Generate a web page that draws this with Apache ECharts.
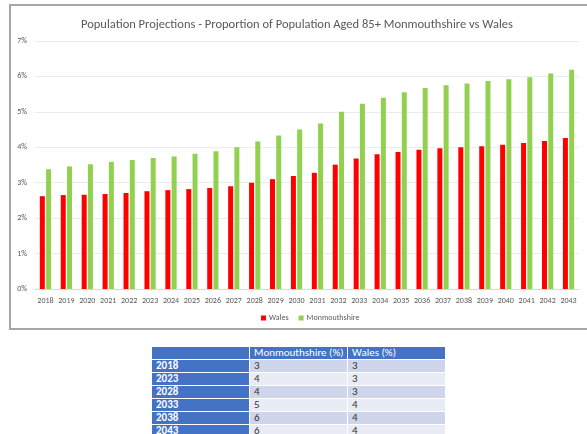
<!DOCTYPE html>
<html lang="en">
<head>
	<meta charset="UTF-8">
	<title>Population Projections - Aged 85+</title>
	<style type="text/css">
		body{
			margin: 0;
			width: 587px;
			height: 434px;
			overflow: hidden;
			background: #fff;
			position: relative;
		}
		#a{
			position: absolute;
			left: 9px;
			top: 4px;
			width: 585px;
			height: 322px;
			border: 2px solid #a6a6a6;
		}
		#t{
			position: absolute;
			left: 151px;
			top: 346px;
			border-collapse: separate;
			border-spacing: 1px;
			font-family: Carlito, "Liberation Sans", sans-serif;
			font-size: 11px;
			line-height: 12px;
		}
		#t td{
			padding: 0 0 0 4px;
			height: 12px;
			color: #333;
		}
		#t tr.h td{ background: #4472c4; color: #fff; }
		#t td.y{ background: #4472c4; color: #fff; font-weight: bold; width: 93px; }
		#t td.c{ width: 93px; }
		#t tr.o td.c{ background: #cfd5ea; }
		#t tr.e td.c{ background: #e9ebf5; }
	</style>
</head>
<body>
	<div id="a"></div>
	<table id="t"></table>
	<script type="text/javascript" src="https://cdn.jsdelivr.net/npm/echarts@6/dist/echarts.min.js"></script>
	<script type="text/javascript">
		// 数据
		var years = ['2018','2019','2020','2021','2022','2023','2024','2025','2026','2027','2028','2029','2030',
			'2031','2032','2033','2034','2035','2036','2037','2038','2039','2040','2041','2042','2043'];
		var wales = [2.62,2.65,2.66,2.68,2.71,2.76,2.79,2.82,2.85,2.90,3.00,3.10,3.19,
			3.28,3.51,3.68,3.80,3.87,3.93,3.97,4.00,4.03,4.07,4.12,4.18,4.26];
		var monmouthshire = [3.38,3.46,3.52,3.59,3.64,3.70,3.74,3.82,3.89,4.00,4.16,4.33,4.50,
			4.67,5.00,5.23,5.40,5.55,5.67,5.75,5.80,5.87,5.92,5.98,6.08,6.19];
		var tableYears = ['2018','2023','2028','2033','2038','2043'];
		var tableMon = [3,4,4,5,6,6];
		var tableWales = [3,3,3,4,4,4];

		// 表格
		var html = '<tr class="h"><td></td><td class="c" style="background:#4472c4">Monmouthshire (%)</td><td class="c" style="background:#4472c4">Wales (%)</td></tr>';
		for (var i = 0; i < tableYears.length; i++) {
			html += '<tr class="' + (i % 2 ? 'e' : 'o') + '"><td class="y">' + tableYears[i] + '</td><td class="c">' +
				tableMon[i] + '</td><td class="c">' + tableWales[i] + '</td></tr>';
		}
		document.getElementById('t').innerHTML = html;

		var myChart = echarts.init(document.getElementById('a'));
		var gray = '#595959';
		var option = {
			animation: false,
			textStyle: { fontFamily: 'Carlito, "Liberation Sans", sans-serif' },
			title: {
				text: 'Population Projections - Proportion of Population Aged 85+ Monmouthshire vs Wales',
				left: 65,
				top: 7,
				textStyle: { fontSize: 12.5, fontWeight: 'normal', color: gray }
			},
			legend: {
				data: ['Wales', 'Monmouthshire'],
				left: 245,
				bottom: 1,
				itemWidth: 5,
				itemHeight: 5,
				itemGap: 10,
				icon: 'rect',
				textStyle: { fontSize: 8, color: gray, padding: [0, 0, 0, -2] }
			},
			grid: { left: 24, right: 17, top: 35, bottom: 39 },
			xAxis: {
				type: 'category',
				data: years,
				axisLine: { lineStyle: { color: '#d9d9d9' } },
				axisTick: { show: false },
				axisLabel: { fontSize: 8, color: gray, margin: 8, interval: 0 }
			},
			yAxis: {
				type: 'value',
				min: 0,
				max: 7,
				interval: 1,
				axisLabel: { fontSize: 8, color: gray, formatter: '{value}%', margin: 8 },
				splitLine: { lineStyle: { color: '#ececec' } }
			},
			series: [
				{ name: 'Wales', type: 'bar', data: wales, barWidth: 5, barGap: '25%',
					itemStyle: { color: '#ff0000' } },
				{ name: 'Monmouthshire', type: 'bar', data: monmouthshire, barWidth: 5,
					itemStyle: { color: '#92d050' } }
			]
		};
		myChart.setOption(option);
	</script>
</body>
</html>
